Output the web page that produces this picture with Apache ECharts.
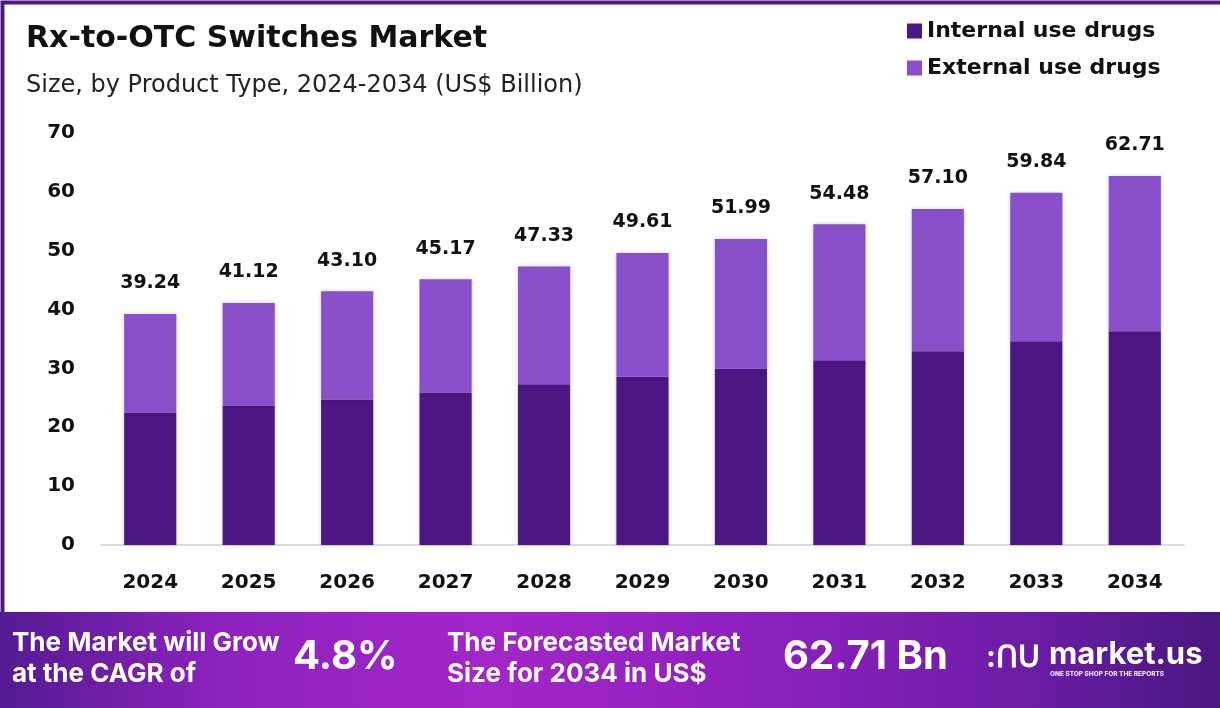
<!DOCTYPE html>
<html>
<head>
<meta charset="utf-8">
<script src="https://cdn.jsdelivr.net/npm/echarts@6/dist/echarts.min.js"></script>
<style>
html,body{margin:0;padding:0;background:#fff;}
#chart{width:1220px;height:708px;}
</style>
</head>
<body>
<div id="chart"></div>
<script>
const years = ['2024','2025','2026','2027','2028','2029','2030','2031','2032','2033','2034'];
const internalUse = [22.5,23.7,24.7,25.9,27.3,28.6,30.0,31.4,32.9,34.6,36.3];
const externalUse = [16.74,17.42,18.40,19.27,20.03,21.01,21.99,23.08,24.20,25.24,26.41];
const totals = [39.24,41.12,43.10,45.17,47.33,49.61,51.99,54.48,57.10,59.84,62.71];
const yTicks = [0,10,20,30,40,50,60,70];

const FONT = 'Inter, "Open Sans", sans-serif';
const WIDE = '"DejaVu Sans", Inter, sans-serif';
const chart = echarts.init(document.getElementById('chart'));
chart.setOption({
  backgroundColor: '#ffffff',
  animation: false,
  title: [
    {text: 'Rx-to-OTC Switches Market', left: 21, top: 19,
     textStyle: {fontFamily: WIDE, fontSize: 30, fontWeight: 'bold', color: '#111'}},
    {text: 'Size, by Product Type, 2024-2034 (US$ Billion)', left: 21, top: 69,
     textStyle: {fontFamily: WIDE, fontSize: 24, fontWeight: 'normal', color: '#222'}}
  ],
  legend: {
    orient: 'vertical', left: 902, top: 15, itemWidth: 15, itemHeight: 15, itemGap: 15,
    icon: 'rect',
    textStyle: {fontFamily: WIDE, fontSize: 22, fontWeight: 'bold', color: '#111'},
    data: ['Internal use drugs', 'External use drugs']
  },
  grid: {left: 101, right: 36, top: 133, bottom: 163},
  xAxis: {
    type: 'category', data: years,
    axisLine: {lineStyle: {color: '#cfcfcf', width: 1.5}},
    axisTick: {show: false},
    axisLabel: {fontFamily: WIDE, fontSize: 20, fontWeight: 'bold', color: '#111', margin: 28}
  },
  yAxis: {
    type: 'value', min: yTicks[0], max: yTicks[yTicks.length-1], interval: 10,
    axisLine: {show: false}, axisTick: {show: false}, splitLine: {show: false},
    axisLabel: {fontFamily: WIDE, fontSize: 20, fontWeight: 'bold', color: '#111', margin: 26}
  },
  series: [
    {name: 'Internal use drugs', type: 'bar', stack: 'total', data: internalUse, barWidth: '53%',
     itemStyle: {color: '#4c1783', shadowBlur: 4, shadowColor: 'rgba(0,0,0,0.18)'}},
    {name: 'External use drugs', type: 'bar', stack: 'total', data: externalUse, barWidth: '53%',
     itemStyle: {color: '#8a50cb', shadowBlur: 4, shadowColor: 'rgba(0,0,0,0.18)'},
     label: {show: true, position: 'top', distance: 21,
       formatter: p => totals[p.dataIndex].toFixed(2),
       fontFamily: WIDE, fontSize: 19, fontWeight: 'bold', color: '#111'}}
  ],
  graphic: [
    {type: 'rect', left: 0, top: 0, z: 100, silent: true,
     shape: {width: 1220, height: 612},
     style: {fill: 'none', stroke: '#4a1a7a', lineWidth: 4}},
    {type: 'rect', left: 0, top: 612, z: 100,
     shape: {width: 1220, height: 96},
     style: {fill: new echarts.graphic.LinearGradient(0, 0, 1, 0, [
       {offset: 0, color: '#531b93'},
       {offset: 0.18, color: '#8d22bd'},
       {offset: 0.4, color: '#a326c9'},
       {offset: 0.65, color: '#8a20bb'},
       {offset: 0.85, color: '#6a1ca6'},
       {offset: 1, color: '#48177e'}
     ])}},
    {type: 'text', left: 12, top: 628, z: 101,
     style: {text: 'The Market will Grow\nat the CAGR of', fill: '#fff', font: 'bold 26px ' + FONT, lineHeight: 31}},
    {type: 'text', left: 293, top: 637, z: 101,
     style: {text: '4.8%', fill: '#fff', font: 'bold 40px ' + FONT}},
    {type: 'text', left: 447, top: 628, z: 101,
     style: {text: 'The Forecasted Market\nSize for 2034 in US$', fill: '#fff', font: 'bold 26px ' + FONT, lineHeight: 31}},
    {type: 'text', left: 783, top: 637, z: 101,
     style: {text: '62.71 Bn', fill: '#fff', font: 'bold 40px ' + FONT}},
    {type: 'text', left: 986, top: 643, z: 101,
     style: {text: ':ՈՍ', fill: '#fff', font: 'bold 30px ' + FONT}},
    {type: 'text', left: 1049, top: 639, z: 101,
     style: {text: 'market.us', fill: '#fff', font: 'bold 31px ' + FONT}},
    {type: 'text', left: 1050, top: 671, z: 101,
     style: {text: 'ONE STOP SHOP FOR THE REPORTS', fill: '#fff', font: 'bold 6.5px ' + FONT}}
  ]
});
</script>
</body>
</html>
